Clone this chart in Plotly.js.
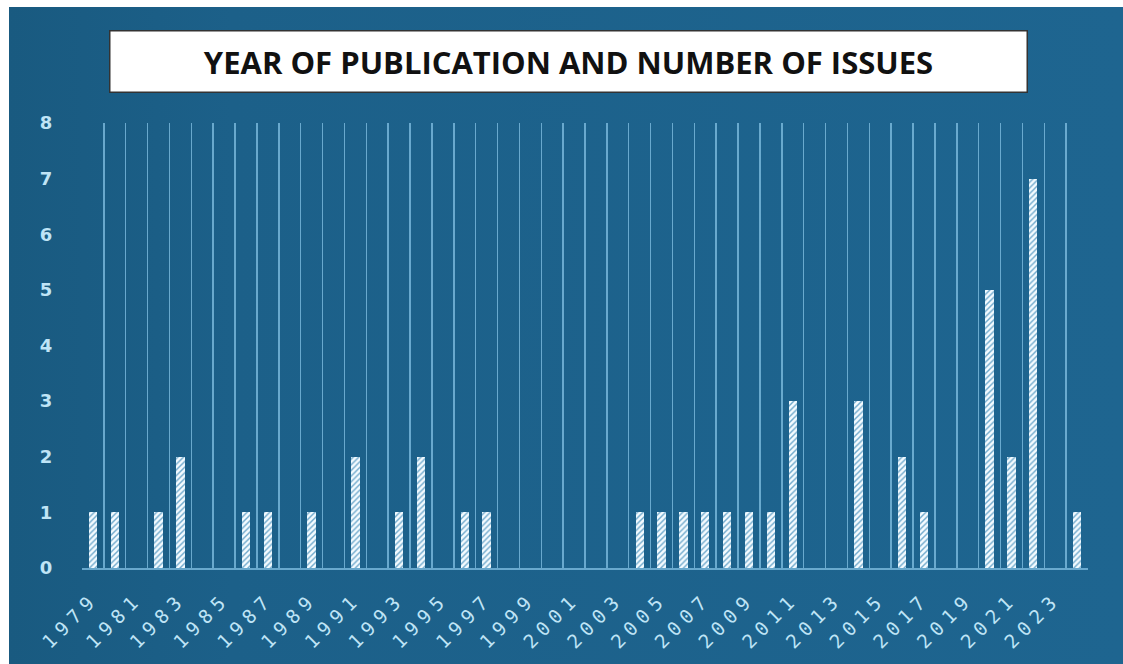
<!DOCTYPE html>
<html>
<head>
<meta charset="utf-8">
<script src="https://cdn.plot.ly/plotly-3.0.1.min.js"></script>
<style>
  html, body { margin: 0; padding: 0; background: #ffffff; }
  #chart {
    position: absolute; left: 9px; top: 7px; width: 1114px; height: 657px;
    background: linear-gradient(90deg, #195a80 0%, #1c6089 20%, #1e6590 100%);
  }
  /* widely spaced year labels under the bars */
  #chart .xtick text { letter-spacing: 6px; }
</style>
</head>
<body>
<div id="chart"></div>
<script>
// Publication years (one bar slot per year)
const years = [
  1979, 1980, 1981, 1982, 1983, 1984, 1985, 1986, 1987, 1988,
  1989, 1990, 1991, 1992, 1993, 1994, 1995, 1996, 1997, 1998,
  1999, 2000, 2001, 2002, 2003, 2004, 2005, 2006, 2007, 2008,
  2009, 2010, 2011, 2012, 2013, 2014, 2015, 2016, 2017, 2018,
  2019, 2020, 2021, 2022, 2023, 2024
];
// Number of issues published each year
const issues = [
  1, 1, 0, 1, 2, 0, 0, 1, 1, 0,
  1, 0, 2, 0, 1, 2, 0, 1, 1, 0,
  0, 0, 0, 0, 0, 1, 1, 1, 1, 1,
  1, 1, 3, 0, 0, 3, 0, 2, 1, 0,
  0, 5, 2, 7, 0, 1
];
// Years shown on the horizontal axis
const labelYears = [
  1979, 1981, 1983, 1985, 1987, 1989, 1991, 1993, 1995, 1997, 1999,
  2001, 2003, 2005, 2007, 2009, 2011, 2013, 2015, 2017, 2019, 2021, 2023
];
const chartTitle = 'YEAR OF PUBLICATION AND NUMBER OF ISSUES';

const trace = {
  type: 'bar',
  x: years,
  y: issues,
  width: 0.38,
  marker: {
    color: '#f2fafe',
    line: { width: 0 },
    pattern: { shape: '/', fgcolor: '#6fa9cc', bgcolor: '#f4fbff', size: 4, solidity: 0.35 }
  },
  hoverinfo: 'x+y'
};

const gridBlue = 'rgba(125,188,222,0.8)';

const layout = {
  width: 1114,
  height: 657,
  margin: { l: 73, r: 35, t: 116, b: 96 },
  paper_bgcolor: 'rgba(0,0,0,0)',
  plot_bgcolor: 'rgba(0,0,0,0)',
  showlegend: false,
  bargap: 0,
  xaxis: {
    range: [years[0] - 0.5, years[years.length - 1] + 0.5],
    tickmode: 'array',
    tickvals: labelYears,
    ticktext: labelYears.map(String),
    tickangle: -45,
    ticks: 'outside',
    ticklen: 11,
    tickcolor: 'rgba(0,0,0,0)',
    tickfont: { family: 'DejaVu Sans Mono', size: 19, color: '#bfe4f6' },
    showgrid: false,
    zeroline: false,
    showline: true,
    linecolor: gridBlue,
    linewidth: 1.5,
    minor: {
      tickmode: 'linear',
      tick0: years[0] - 0.5,
      dtick: 1,
      showgrid: true,
      gridcolor: gridBlue,
      gridwidth: 1.5,
      ticks: ''
    },
    fixedrange: true
  },
  yaxis: {
    range: [0, 8],
    dtick: 1,
    ticks: 'outside',
    ticklen: 25,
    tickcolor: 'rgba(0,0,0,0)',
    tickfont: { family: 'DejaVu Sans', size: 18, color: '#bfe4f6', weight: 'bold' },
    showgrid: false,
    zeroline: false,
    showline: false,
    fixedrange: true
  },
  annotations: [{
    xref: 'paper', yref: 'paper',
    x: 0.484, y: 1.0, yanchor: 'bottom', xanchor: 'center',
    yshift: 30,
    text: '<b>' + chartTitle + '</b>',
    showarrow: false,
    font: { family: 'Open Sans', size: 31, color: '#111111' },
    bgcolor: '#ffffff',
    bordercolor: '#333333',
    borderwidth: 1.5,
    width: 914,
    height: 58,
    valign: 'middle'
  }]
};

Plotly.newPlot('chart', [trace], layout, { displayModeBar: false, staticPlot: true });
</script>
</body>
</html>
